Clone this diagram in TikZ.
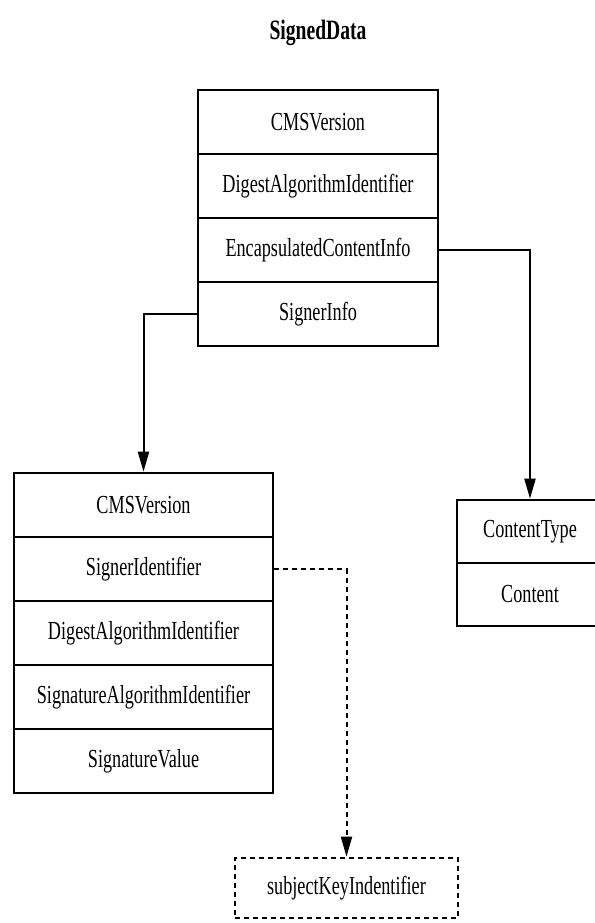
\documentclass[tikz,border=0pt]{standalone}
\usepackage{fontspec}
\setmainfont[FakeStretch=0.7]{Liberation Serif}
\usetikzlibrary{arrows.meta}

\begin{document}
\begin{tikzpicture}[x=0.5pt, y=-0.5pt, node distance={32pt}, line width=1pt,
        every node/.style={inner sep=0pt, font=\fontsize{13pt}{15pt}\selectfont},
        field/.style={draw, line width=1.3pt, minimum height=32pt},
        link/.style={-{Triangle[length=10pt,width=5.5pt]}},
        dashy/.style={dash pattern=on 2.5pt off 2pt}]
        \useasboundingbox (0,0) rectangle (595,923);
        \node (title) at (318,33) {\fontsize{14pt}{16pt}\selectfont\bfseries SignedData};
        % SignedData fields
        \node (cms) [field, minimum width=120pt] at (318,122) {CMSVersion};
        \node (dai) [field, minimum width=120pt, below of=cms] {DigestAlgorithmIdentifier};
        \node (eci) [field, minimum width=120pt, below of=dai] {EncapsulatedContentInfo};
        \node (si) [field, minimum width=120pt, below of=eci] {SignerInfo};
        % SignerInfo fields
        \node (scms) [field, minimum width=129.5pt] at (143.5,505) {CMSVersion};
        \node (sid) [field, minimum width=129.5pt, below of=scms] {SignerIdentifier};
        \node (sdai) [field, minimum width=129.5pt, below of=sid] {DigestAlgorithmIdentifier};
        \node (ssai) [field, minimum width=129.5pt, below of=sdai] {SignatureAlgorithmIdentifier};
        \node (sv) [field, minimum width=129.5pt, below of=ssai] {SignatureValue};
        % EncapsulatedContentInfo fields
        \node (ct) [field, minimum width=73pt, minimum height=31.5pt] at (530,531.5) {ContentType};
        \node (cnt) [field, minimum width=73pt, minimum height=31.5pt, below of=ct, node distance=31.5pt] {Content};
        \node (ski) [field, dashy, minimum width=111.5pt, minimum height=30pt] at (346.5,888) {subjectKeyIndentifier};
        \draw[link] (si.west) -| (scms.north);
        \draw[link] (eci.east) -| (ct.north);
        \draw[link, dashy] (sid.east) -| (ski.north);
    \end{tikzpicture}
\end{document}
